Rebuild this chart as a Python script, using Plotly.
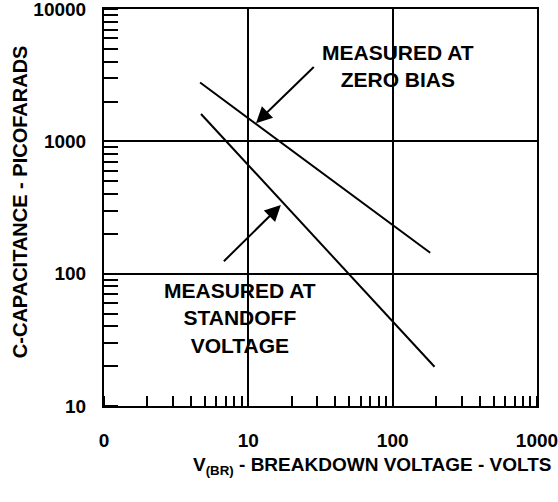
import numpy as np
import plotly.graph_objects as go

# Axis ticks
x_tickvals = [1, 10, 100, 1000]
x_ticktext = ["0", "10", "100", "1000"]
y_tickvals = [10, 100, 1000, 10000]
y_ticktext = ["10", "100", "1000", "10000"]

# Curves (V_BR in volts, capacitance in pF)
zero_bias_v = [4.63, 182]
zero_bias_c = [2780, 144]
standoff_v = [4.7, 195]
standoff_c = [1610, 19.8]

# Callout arrows: (tail, tip) in data units
zero_arrow_tail = (29.1, 3733)
zero_arrow_tip = (11.3, 1371)
standoff_arrow_tail = (6.61, 121)
standoff_arrow_tip = (16.8, 330)

# Label anchor points (data units)
zero_label_pos = (109, 3680)
standoff_label_pos = (8.77, 46.3)

FONT = "Liberation Sans"

fig = go.Figure()
fig.add_trace(go.Scatter(x=zero_bias_v, y=zero_bias_c, mode="lines",
                         line=dict(color="black", width=2),
                         name="Measured at zero bias", showlegend=False))
fig.add_trace(go.Scatter(x=standoff_v, y=standoff_c, mode="lines",
                         line=dict(color="black", width=2),
                         name="Measured at standoff voltage", showlegend=False))

def arrow(tail, tip):
    return dict(x=np.log10(tip[0]), y=np.log10(tip[1]),
                ax=np.log10(tail[0]), ay=np.log10(tail[1]),
                xref="x", yref="y", axref="x", ayref="y",
                text="", showarrow=True, arrowhead=2, arrowsize=1.6,
                arrowwidth=2, arrowcolor="black")

annotations = [
    arrow(zero_arrow_tail, zero_arrow_tip),
    arrow(standoff_arrow_tail, standoff_arrow_tip),
    dict(x=np.log10(zero_label_pos[0]), y=np.log10(zero_label_pos[1]),
         xref="x", yref="y", text="MEASURED AT<br>ZERO BIAS", showarrow=False,
         font=dict(family=FONT, size=21, color="black", weight="bold"),
         align="center", xanchor="center", yanchor="middle"),
    dict(x=np.log10(standoff_label_pos[0]), y=np.log10(standoff_label_pos[1]),
         xref="x", yref="y", text="MEASURED AT<br>STANDOFF<br>VOLTAGE", showarrow=False,
         font=dict(family=FONT, size=21, color="black", weight="bold"),
         align="center", xanchor="center", yanchor="middle"),
    dict(x=0.619, y=-0.15, xref="paper", yref="paper",
         text="V<sub>(BR)</sub> - BREAKDOWN VOLTAGE - VOLTS", showarrow=False,
         font=dict(family=FONT, size=19, color="black", weight="bold"),
         xanchor="center", yanchor="middle"),
    dict(x=-0.194, y=0.516, xref="paper", yref="paper",
         text="C-CAPACITANCE - PICOFARADS", showarrow=False, textangle=-90,
         font=dict(family=FONT, size=20, color="black", weight="bold"),
         xanchor="center", yanchor="middle"),
]

fig.update_layout(
    width=558, height=502,
    margin=dict(l=104, r=21, t=9, b=96, autoexpand=False),
    paper_bgcolor="white", plot_bgcolor="white",
    showlegend=False,
    annotations=annotations,
    xaxis=dict(type="log", range=[0, 3], tickvals=x_tickvals, ticktext=x_ticktext,
               ticks="", showgrid=True, gridcolor="black", gridwidth=2,
               showline=True, linecolor="black", linewidth=2, mirror=True,
               zeroline=False, ticklabelstandoff=16, automargin=False,
               ticklabeloverflow="allow",
               tickfont=dict(family=FONT, size=19, color="black", weight="bold"),
               minor=dict(dtick="D1", ticks="inside", ticklen=10, tickwidth=2,
                          tickcolor="black", showgrid=False)),
    yaxis=dict(type="log", range=[1, 4], tickvals=y_tickvals, ticktext=y_ticktext,
               ticks="", showgrid=True, gridcolor="black", gridwidth=2,
               showline=True, linecolor="black", linewidth=2, mirror=True,
               zeroline=False, ticklabelstandoff=12, automargin=False,
               ticklabeloverflow="allow",
               tickfont=dict(family=FONT, size=19, color="black", weight="bold"),
               minor=dict(dtick="D1", ticks="inside", ticklen=14, tickwidth=2,
                          tickcolor="black", showgrid=False)),
)

fig.write_html("out.html", config={"displayModeBar": False},
               post_script="document.body.style.margin='0';document.body.style.padding='0';")
